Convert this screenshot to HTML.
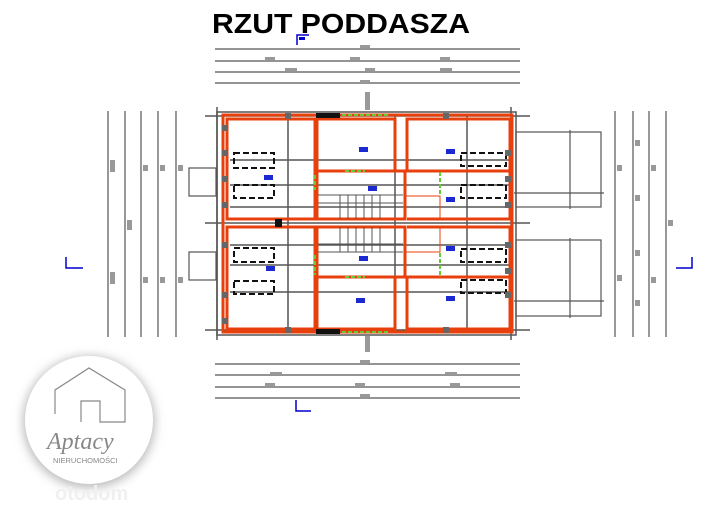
<!DOCTYPE html>
<html><head><meta charset="utf-8"><style>
html,body{margin:0;padding:0;background:#fff;}
svg{display:block}
</style></head><body>
<svg width="720" height="507" viewBox="0 0 720 507" xmlns="http://www.w3.org/2000/svg">
<defs>
<filter id="sh" x="-30%" y="-30%" width="160%" height="160%"><feGaussianBlur stdDeviation="5"/></filter>
</defs>
<text x="212" y="33" font-family="Liberation Sans, sans-serif" font-weight="bold" font-size="28" textLength="258" lengthAdjust="spacingAndGlyphs">RZUT PODDASZA</text>
<path d="M297 45 V35 H309" stroke="#00c" stroke-width="1.5" fill="none"/>
<rect x="299" y="37" width="6" height="3" fill="#00c"/>
<g stroke="#555" stroke-width="1.2">
<line x1="215" y1="49" x2="520" y2="49"/>
<line x1="215" y1="61" x2="520" y2="61"/>
<line x1="215" y1="72" x2="520" y2="72"/>
<line x1="215" y1="83" x2="520" y2="83"/>
<line x1="215" y1="364" x2="520" y2="364"/>
<line x1="215" y1="375" x2="520" y2="375"/>
<line x1="215" y1="387" x2="520" y2="387"/>
<line x1="215" y1="398" x2="520" y2="398"/>
<line x1="108" y1="111" x2="108" y2="337"/>
<line x1="125" y1="111" x2="125" y2="337"/>
<line x1="141" y1="111" x2="141" y2="337"/>
<line x1="158" y1="111" x2="158" y2="337"/>
<line x1="176" y1="111" x2="176" y2="337"/>
<line x1="615" y1="111" x2="615" y2="337"/>
<line x1="633" y1="111" x2="633" y2="337"/>
<line x1="649" y1="111" x2="649" y2="337"/>
<line x1="666" y1="111" x2="666" y2="337"/>
</g>
<g fill="#999">
<rect x="265" y="57" width="10" height="3"/><rect x="350" y="57" width="10" height="3"/><rect x="440" y="57" width="10" height="3"/>
<rect x="285" y="68" width="12" height="3"/><rect x="365" y="68" width="10" height="3"/><rect x="440" y="68" width="12" height="3"/>
<rect x="360" y="45" width="10" height="3"/><rect x="360" y="80" width="10" height="3"/>
<rect x="365" y="92" width="5" height="18"/><rect x="365" y="336" width="5" height="16"/>
<rect x="270" y="372" width="12" height="3"/><rect x="445" y="372" width="12" height="3"/><rect x="360" y="360" width="10" height="3"/>
<rect x="265" y="383" width="10" height="3"/><rect x="355" y="383" width="10" height="3"/><rect x="450" y="383" width="10" height="3"/>
<rect x="360" y="394" width="10" height="3"/>
<rect x="110" y="160" width="5" height="12"/><rect x="110" y="272" width="5" height="12"/>
<rect x="127" y="220" width="5" height="10"/>
<rect x="143" y="165" width="5" height="6"/><rect x="143" y="277" width="5" height="6"/>
<rect x="160" y="165" width="5" height="6"/><rect x="160" y="277" width="5" height="6"/>
<rect x="178" y="165" width="5" height="6"/><rect x="178" y="277" width="5" height="6"/>
<rect x="617" y="165" width="5" height="6"/><rect x="617" y="275" width="5" height="6"/>
<rect x="635" y="140" width="5" height="6"/><rect x="635" y="195" width="5" height="6"/><rect x="635" y="250" width="5" height="6"/><rect x="635" y="300" width="5" height="6"/>
<rect x="651" y="165" width="5" height="6"/><rect x="651" y="277" width="5" height="6"/>
<rect x="668" y="220" width="5" height="6"/>
</g>
<path d="M66 257 V268 H83" stroke="#00c" stroke-width="1.5" fill="none"/>
<path d="M296 400 V411 H311" stroke="#00c" stroke-width="1.5" fill="none"/>
<path d="M692 257 V268 H676" stroke="#00c" stroke-width="1.5" fill="none"/>
<g stroke="#555" stroke-width="1.2" fill="none">
<rect x="189" y="168" width="27" height="28"/>
<rect x="189" y="252" width="27" height="28"/>
<rect x="516" y="132" width="85" height="75"/>
<rect x="516" y="240" width="85" height="76"/>
<line x1="570" y1="130" x2="570" y2="209"/>
<line x1="570" y1="238" x2="570" y2="318"/>
<line x1="514" y1="193" x2="604" y2="193"/>
<line x1="514" y1="301" x2="604" y2="301"/>
</g>
<rect x="217" y="112" width="299" height="223" fill="none" stroke="#555" stroke-width="1.5"/>
<g stroke="#555" stroke-width="1.5">
<line x1="217" y1="107" x2="217" y2="340"/>
<line x1="511" y1="107" x2="511" y2="340"/>
<line x1="205" y1="223" x2="530" y2="223"/>
<line x1="205" y1="330" x2="530" y2="330"/>
<line x1="205" y1="116" x2="530" y2="116"/>
<line x1="288" y1="116" x2="288" y2="330"/>
<line x1="395" y1="116" x2="395" y2="330"/>
<line x1="467" y1="116" x2="467" y2="330"/>
<line x1="230" y1="160" x2="510" y2="160"/>
<line x1="230" y1="185" x2="510" y2="185"/>
<line x1="230" y1="207" x2="510" y2="207"/>
<line x1="230" y1="245" x2="510" y2="245"/>
<line x1="230" y1="265" x2="510" y2="265"/>
<line x1="230" y1="292" x2="510" y2="292"/>
</g>
<g fill="none" stroke="#e8400c" stroke-width="3">
<rect x="223" y="115" width="289" height="217"/>
<rect x="227" y="119" width="88" height="100"/>
<rect x="227" y="227" width="88" height="102"/>
<rect x="317" y="119" width="78" height="52"/>
<rect x="317" y="277" width="78" height="52"/>
<rect x="317" y="171" width="88" height="48"/>
<rect x="317" y="227" width="88" height="50"/>
<rect x="407" y="119" width="103" height="52"/>
<rect x="407" y="277" width="103" height="52"/>
<path d="M407 171 H510 V219 H407"/>
<path d="M407 227 H510 V277 H407"/>
</g>
<g stroke="#e8400c" stroke-width="1" fill="none">
<path d="M405 196 H440 V219"/><path d="M405 252 H440 V227"/>
</g>
<g stroke="#555" stroke-width="1" fill="none">
<line x1="318" y1="195" x2="403" y2="195"/><line x1="318" y1="203" x2="403" y2="203"/>
<line x1="318" y1="244" x2="403" y2="244"/><line x1="318" y1="252" x2="403" y2="252"/>
<path d="M340 195 V219 M348 195 V219 M356 195 V219 M364 195 V219 M372 195 V219 M380 195 V219"/>
<path d="M340 227 V252 M348 227 V252 M356 227 V252 M364 227 V252 M372 227 V252 M380 227 V252"/>
</g>
<g fill="#111">
<rect x="316" y="113" width="24" height="5"/><rect x="316" y="329" width="24" height="5"/>
<rect x="275" y="219" width="7" height="8"/>
</g>
<g stroke="#6c3" stroke-width="2" stroke-dasharray="4 2">
<line x1="342" y1="115" x2="390" y2="115"/><line x1="342" y1="332" x2="390" y2="332"/>
<line x1="315" y1="175" x2="315" y2="190"/><line x1="315" y1="255" x2="315" y2="275"/>
<line x1="440" y1="172" x2="440" y2="195"/><line x1="440" y1="253" x2="440" y2="276"/>
<line x1="345" y1="171" x2="365" y2="171"/><line x1="345" y1="277" x2="365" y2="277"/>
</g>
<g fill="none" stroke="#111" stroke-width="2" stroke-dasharray="6 3">
<rect x="234" y="153" width="40" height="15"/><rect x="234" y="185" width="40" height="13"/>
<rect x="234" y="248" width="40" height="14"/><rect x="234" y="281" width="40" height="13"/>
<rect x="461" y="153" width="45" height="13"/><rect x="461" y="185" width="45" height="13"/>
<rect x="461" y="249" width="45" height="13"/><rect x="461" y="280" width="45" height="13"/>
</g>
<g fill="#666">
<rect x="222" y="125" width="6" height="6"/><rect x="222" y="150" width="6" height="6"/><rect x="222" y="176" width="6" height="6"/><rect x="222" y="202" width="6" height="6"/>
<rect x="222" y="242" width="6" height="6"/><rect x="222" y="292" width="6" height="6"/><rect x="222" y="318" width="6" height="6"/>
<rect x="505" y="150" width="6" height="6"/><rect x="505" y="176" width="6" height="6"/><rect x="505" y="202" width="6" height="6"/><rect x="505" y="242" width="6" height="6"/><rect x="505" y="268" width="6" height="6"/><rect x="505" y="292" width="6" height="6"/>
<rect x="285" y="113" width="6" height="6"/><rect x="443" y="113" width="6" height="6"/><rect x="285" y="327" width="6" height="6"/><rect x="443" y="327" width="6" height="6"/>
</g>
<g fill="#1a2ad0">
<rect x="264" y="175" width="9" height="5"/><rect x="359" y="147" width="9" height="5"/><rect x="446" y="149" width="9" height="5"/>
<rect x="368" y="186" width="9" height="5"/><rect x="446" y="197" width="9" height="5"/>
<rect x="266" y="266" width="9" height="5"/><rect x="359" y="256" width="9" height="5"/><rect x="446" y="246" width="9" height="5"/>
<rect x="356" y="298" width="9" height="5"/><rect x="446" y="296" width="9" height="5"/>
</g>
<circle cx="89" cy="422" r="66" fill="#bbb" filter="url(#sh)"/>
<circle cx="89" cy="420" r="64" fill="#fff"/>
<g fill="none" stroke="#888" stroke-width="1.2">
<path d="M55 414 V390 L89 368 L125 390 V422 H100 V401 H81 V422"/>
</g>
<text x="47" y="449" font-family="Liberation Serif, serif" font-style="italic" font-size="24" fill="#888">Aptacy</text>
<text x="53" y="463" font-family="Liberation Sans, sans-serif" font-size="7.5" fill="#888">NIERUCHOMOŚCI</text>
<text x="55" y="500" font-family="Liberation Sans, sans-serif" font-weight="bold" font-size="20" fill="#f0f0f0">otodom</text>
</svg>
</body></html>
